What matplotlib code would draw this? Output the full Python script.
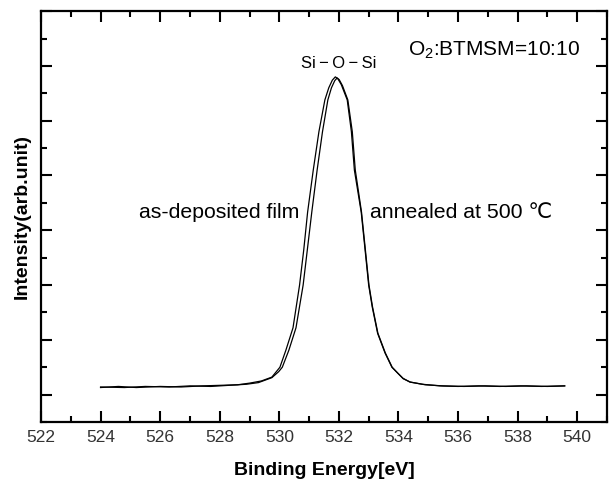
import matplotlib
matplotlib.use("Agg")
import matplotlib.pyplot as plt
from matplotlib.ticker import MultipleLocator, NullFormatter

plt.rcParams['font.family'] = ['Liberation Sans', 'DejaVu Sans']
plt.rcParams['mathtext.default'] = 'regular'

# XPS O1s spectra
energy_dep = [524.0, 524.6, 525.2, 526.0, 526.7, 527.4, 528.0, 528.6, 529.0, 529.4, 529.75,
              530.02, 530.22, 530.46, 530.68, 530.82, 530.95, 531.14, 531.33, 531.53, 531.66, 531.78, 531.88,
              531.96, 532.08, 532.28, 532.42, 532.52, 532.75, 532.88, 533.0, 533.12, 533.30, 533.55,
              533.78, 533.98, 534.15, 534.38, 534.8, 535.39, 536.0, 536.7, 537.4, 538.1, 538.8, 539.58]
inten_dep = [0.13, 0.15, 0.13, 0.15, 0.14, 0.16, 0.17, 0.18, 0.21, 0.25, 0.32,
             0.50, 0.81, 1.22, 2.00, 2.64, 3.33, 4.10, 4.80, 5.38, 5.60, 5.74, 5.80,
             5.77, 5.66, 5.38, 4.80, 4.10, 3.33, 2.64, 2.00, 1.60, 1.12, 0.76,
             0.50, 0.39, 0.30, 0.23, 0.19, 0.16, 0.15, 0.16, 0.15, 0.16, 0.15, 0.16]

energy_ann = [524.0, 524.8, 525.5, 526.3, 527.0, 527.7, 528.3, 528.9, 529.3, 529.75,
              529.98, 530.10, 530.32, 530.56, 530.80, 530.94, 531.09, 531.27, 531.45, 531.63, 531.75, 531.86, 531.94,
              532.01, 532.12, 532.30, 532.45, 532.55, 532.76, 532.89, 533.01, 533.13, 533.31, 533.56,
              533.79, 534.0, 534.16, 534.4, 534.9, 535.5, 536.2, 536.9, 537.6, 538.3, 539.0, 539.58]
inten_ann = [0.14, 0.13, 0.15, 0.14, 0.16, 0.15, 0.17, 0.19, 0.22, 0.31,
             0.42, 0.50, 0.81, 1.22, 2.00, 2.64, 3.33, 4.10, 4.80, 5.38, 5.60, 5.73, 5.78,
             5.75, 5.64, 5.38, 4.80, 4.10, 3.33, 2.64, 2.00, 1.60, 1.12, 0.76,
             0.50, 0.38, 0.29, 0.23, 0.18, 0.16, 0.15, 0.16, 0.15, 0.16, 0.15, 0.16]

fig = plt.figure(figsize=(6.09, 4.84), dpi=100)
ax = fig.add_axes([0.0673, 0.128, 0.9294, 0.849])

ax.plot(energy_dep, inten_dep, color='black', lw=0.9)
ax.plot(energy_ann, inten_ann, color='black', lw=0.9)

ax.set_xlim(522, 541)
ax.set_ylim(-0.5, 7)
ax.xaxis.set_major_locator(MultipleLocator(2))
ax.xaxis.set_minor_locator(MultipleLocator(1))
ax.yaxis.set_major_locator(MultipleLocator(1))
ax.yaxis.set_minor_locator(MultipleLocator(0.5))
ax.yaxis.set_major_formatter(NullFormatter())

ax.tick_params(which='both', direction='in', top=True, right=True, width=1.5)
ax.tick_params(which='major', length=8)
ax.tick_params(which='minor', length=4)
ax.tick_params(axis='x', labelsize=12.5, labelcolor='#333333', pad=6)
for s in ax.spines.values():
    s.set_linewidth(1.6)

ax.set_xlabel('Binding Energy[eV]', fontsize=14, fontweight='bold', labelpad=12)
ax.set_ylabel('Intensity(arb.unit)', fontsize=14, fontweight='bold', labelpad=4)

ax.text(532.0, 6.05, 'Si\u2009\u2212\u2009O\u2009\u2212\u2009Si', ha='center', va='center', fontsize=12)
ax.text(540.1, 6.29, 'O$_2$:BTMSM=10:10', ha='right', va='center', fontsize=15)
ax.text(530.66, 3.33, 'as-deposited film', ha='right', va='center', fontsize=15.3)
ax.text(533.04, 3.33, 'annealed at 500 \u2103', ha='left', va='center', fontsize=15.3)

fig.savefig('out.png', dpi=100)
